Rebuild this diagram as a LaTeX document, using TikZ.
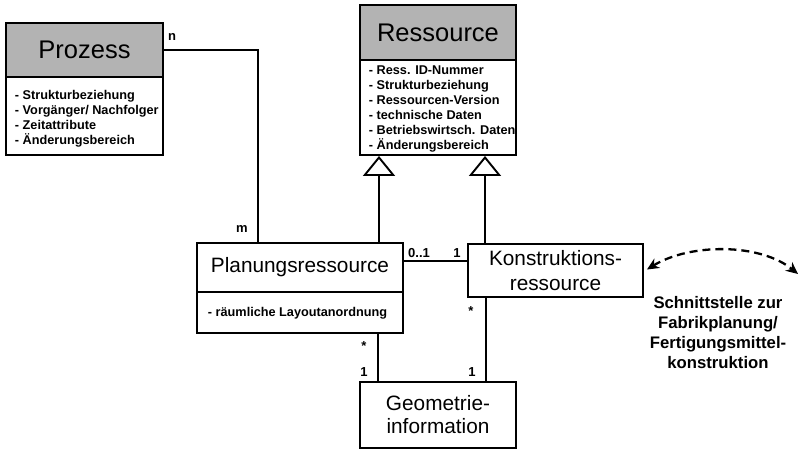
\documentclass[tikz,border=0pt]{standalone}
\usepackage{fontspec}
\setmainfont{Liberation Sans}
\usetikzlibrary{arrows.meta,calc}
\definecolor{headgrey}{RGB}{179,179,179}

\begin{document}
\begin{tikzpicture}[x=1pt,y=-1pt,line width=1.9pt,
  head/.style={draw,fill=headgrey,inner sep=0pt,font=\fontsize{25.5}{30}\selectfont},
  classbox/.style={draw,fill=white,inner sep=0pt,align=center,font=\fontsize{20.8}{25}\selectfont},
  attrbox/.style={draw,fill=white,inner sep=0pt},
  attrlist/.style={inner sep=0pt,align=left,font=\bfseries\fontsize{12.7}{15}\selectfont},
  mult/.style={inner sep=0pt,font=\bfseries\fontsize{13}{15}\selectfont},
  gen/.style={-{Triangle[open,length=20pt,width=32pt]}},
  interface/.style={{Stealth[length=12pt,width=11pt]}-{Stealth[length=12pt,width=11pt]},line width=2.3pt,dash pattern=on 8pt off 5pt}
]
\useasboundingbox (0,0) rectangle (806,450);

% Prozess class
\node[head,minimum width=157pt,minimum height=54pt] (prozhead) at (84.5,50) {Prozess};
\node[attrbox,minimum width=157pt,minimum height=78pt] (prozattr) at (84.5,116) {};
\node[attrlist,anchor=north west] (prozlist) at (14,89) {- Strukturbeziehung\\- Vorgänger/ Nachfolger\\- Zeitattribute\\- Änderungsbereich};

% Ressource class
\node[head,minimum width=156pt,minimum height=55pt] (resshead) at (438,32.5) {Ressource};
\node[attrbox,minimum width=156pt,minimum height=95pt] (ressattr) at (438,107.5) {};
\node[attrlist,anchor=north west] (resslist) at (368,65) {- Ress. ID-Nummer\\- Strukturbeziehung\\- Ressourcen-Version\\- technische Daten\\- Betriebswirtsch. Daten\\- Änderungsbereich};

% Planungsressource class
\node[classbox,minimum width=206pt,minimum height=49pt] (planhead) at (300,267.5) {Planungsressource};
\node[attrbox,minimum width=206pt,minimum height=41pt] (planattr) at (300,312.5) {};
\node[attrlist,anchor=west] (planlist) at (207,313) {- räumliche Layoutanordnung};

% Konstruktionsressource and Geometrieinformation
\node[classbox,minimum width=175pt,minimum height=53pt] (konstr) at (555.5,270.5) {Konstruktions-\\ressource};
\node[classbox,minimum width=156pt,minimum height=66pt,font=\fontsize{20.8}{23}\selectfont] (geo) at (438,415) {Geometrie-\\information};

% helper positions for vertical connectors
\coordinate (g1) at (379,0);
\coordinate (g2) at (485,0);
\coordinate (c1) at (378,0);
\coordinate (c2) at (486,0);
\coordinate (a) at (0,261);

% associations and generalisations
\draw (prozhead.east) -| ([xshift=62pt]planhead.north west);
\draw[gen] (planhead.north -| g1) -- (ressattr.south -| g1);
\draw[gen] (konstr.north -| g2) -- (ressattr.south -| g2);
\draw (planhead.east |- a) -- (konstr.west |- a);
\draw (planattr.south -| c1) -- (geo.north -| c1);
\draw (konstr.south -| c2) -- (geo.north -| c2);

% multiplicities
\node[mult] (mn) at (172,37) {n};
\node[mult] (mm) at (242,229) {m};
\node[mult] (m01) at (419,253) {0..1};
\node[mult] (m1a) at (457,253) {1};
\node[mult] (ms1) at (364,346) {*};
\node[mult] (m1b) at (364,372) {1};
\node[mult] (ms2) at (471,311) {*};
\node[mult] (m1c) at (472,372) {1};

% interface to factory planning
\coordinate (iface) at (798,274);
\draw[interface] ([xshift=3pt,yshift=1pt]konstr.east) .. controls (690,243) and (760,243) .. (iface);
\node[inner sep=0pt,align=center,font=\bfseries\fontsize{16.7}{20}\selectfont] (ifacetext) at (718,332.5)
  {Schnittstelle zur\\Fabrikplanung/\\Fertigungsmittel-\\konstruktion};
\end{tikzpicture}
\end{document}
